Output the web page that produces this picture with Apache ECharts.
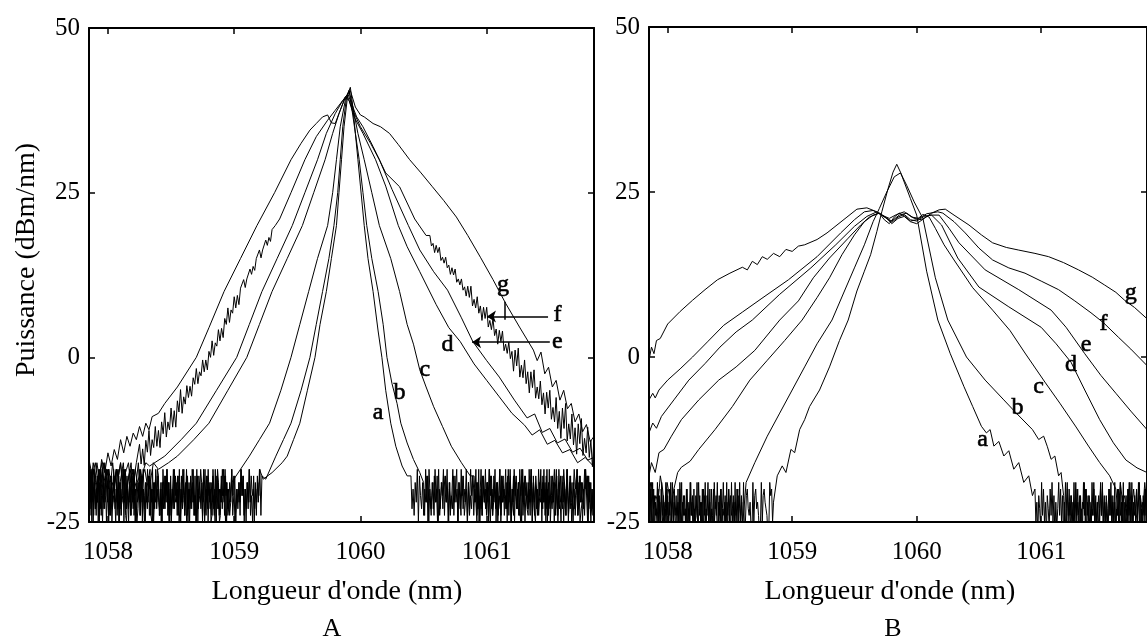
<!DOCTYPE html>
<html>
<head>
<meta charset="utf-8">
<script src="https://cdn.jsdelivr.net/npm/echarts@6.0.0/dist/echarts.min.js"></script>
<style>
html, body { margin: 0; padding: 0; background: #fff; }
#chart { width: 1147px; height: 640px; }
</style>
</head>
<body>
<div id="chart"></div>
<script>
var ticksX = [1058, 1059, 1060, 1061];
var ticksY = [-25, 0, 25, 50];

/* ---- bruit du plancher : un chiffre = dB sous le niveau de référence ---- */
// panneau A, référence -16 dBm/nm
var fA_aL = '3725614829374165293847261593728461937256184729365182947361528493716258493726159384726' +
            '6481927356184927365819247365182947365819274635182947361852947361528493716254938261';
var fA_bL = '5281937462815937246183952746193825617493826154973826159472836195274683915726384951726' +
            '2739461852937461859273648195273648159273846152937486152974638152947361859274635182';
var fA_cL = '4619283756192847365129483756218493765128947365218497356128497356218947365128493762' +
            '5183927461538297461583927465138297465139287461539827465139827461538';
var fA_dL = '2413520314253142053124305213420';
var fA_eL = '1302413021534120314205132410';
var fA_fL = '0213021402130312042103120';
var fA_aR = '2748361925738462915837264918537246193857264193582746193857246183957246183952746193857264' +
            '5172839461527384916253748192637485192637481952637481592637418529637418526374159263748';
var fA_bR = '3816294753816294735182649375182649371528649371528469375182647391528647395182647391528' +
            '6293748152639478152637948152736491857263941857263948157263948517263948152739481';
var fA_cR = '2637194825736194825637194285736194825736918425736194825736' +
            '4718293657418293657148293765142839765142938765';
// panneau B, référence -18 dBm/nm
var fB_aL = '3715829461738259471638295174638291574638295716482935716482937561829' +
            '5927461839275648192736548192735648197325648917325469817324569813274';
var fB_bL = '4827193658274916385729461837295648271936582749163857' +
            '6195374826193574826915378462951738462591738465291738';
var fB_cL = '215340261352';
var fB_aR = '2749358162749358261739485162739485172639485172693845172639485' +
            '6173948526173849526183749562817394856271839465271839456271';
var fB_bR = '3718264935718264937581629473581629475381629473' +
            '5926374819527364819537264918537264195837264';
var fB_cR = '261438152743615';

// flancs bruités de la courbe f (panneau A), dBm/nm
var nA_fLs = [-13.2,-16.2,-13.9,-16.4,-12.6,-14.4,-11.1,-14.9,-12.5,-13.7,-10.5,-13.5,-11.1,-13.7,-9.8,-11.6,-8.4,-12.1,-9.8,-11,-7.7,-10.6,-8.1,-10.6,-6.6,-8.3,-4.9,-8.5,-6,-7.1,-4.3,-6.1,-4.4,-5.9,-3.1,-4.1,-1.7,-4,-2.2,-2.8,-0.4,-2.2,-0.4,-1.9,0.9,0,2.5,0.3,2.2,1.7,4.2,2.5,4.4,3,5.9,5,7.5,5.3,7.2,6.7,9.2,7.5,9.4,8,10.5,10.2,11.8,10.6,11.9,11.8,13.4,12.6,13.8,13.2,15,14.7,16.3,15.1,16.3,16.2,17.8,17,18.2,17.6,19.4,19.1,20];
var nA_fRs = [18.5,16.9,17.3,15.9,17,15.9,16.7,14.7,15.2,14.3,15.2,13.6,14,12.6,13.6,12.5,13.4,11.4,11.9,11,11.9,10.2,10.7,9.3,10.8,9.1,10.8,7.8,8.8,7.5,9.2,6.7,7.8,5.6,7.6,5.9,7.6,4.6,5.6,4.2,5.9,3.3,4.3,2,4.1,2.4,4,1,2,0.6,2.3,-0.2,0.9,-2.1,1.1,-1.3,1.4,-3,-1.2,-3.1,-0.4,-4,-2.2,-5.4,-2.2,-4.6,-1.9,-6.2,-4.5,-6.3,-3.6,-7.2,-5.4,-8.6,-5.3,-7.7,-5,-9.4,-7.6,-9.8,-6.1,-10.8,-8.2,-12.3,-7.7,-10.8,-7,-12.7,-10.1,-12.4,-8.6,-13.3,-10.7,-14.7,-10.1,-13.1,-9.3,-14.9,-12.3,-14.5,-10.6,-15.2,-12.6,-16.6,-12];

/* ---- courbes du panneau A [longueur d'onde nm, puissance dBm/nm] ---- */
var A_a_mid = [[1059.23,-18.5],[1059.3,-17.5],[1059.38,-16],[1059.42,-15],[1059.47,-12.5],[1059.52,-10],[1059.58,-5],[1059.64,0],[1059.68,5],[1059.73,10],[1059.77,15],[1059.81,20],[1059.83,25],[1059.85,30],[1059.87,35],[1059.9,40],[1059.92,41],[1059.94,38],[1059.96,34],[1059.98,30],[1060.0,26],[1060.03,20],[1060.06,15],[1060.1,10],[1060.14,4],[1060.17,0],[1060.2,-5],[1060.24,-10],[1060.28,-13.5],[1060.33,-16.5],[1060.37,-18]];
var A_b_mid = [[1059.25,-18.5],[1059.33,-15],[1059.39,-12.5],[1059.45,-10],[1059.53,-5],[1059.6,0],[1059.65,5],[1059.7,10],[1059.75,15],[1059.79,20],[1059.82,25],[1059.84,30],[1059.86,35],[1059.89,39.5],[1059.91,40.5],[1059.93,38],[1059.96,34],[1059.99,30],[1060.02,25],[1060.05,20],[1060.09,15],[1060.14,10],[1060.18,5],[1060.21,0],[1060.25,-4],[1060.29,-7],[1060.32,-10],[1060.37,-13],[1060.42,-15.5],[1060.47,-17.5]];
var A_c_mid = [[1058.98,-19],[1059.05,-17],[1059.12,-15],[1059.2,-12.5],[1059.28,-10],[1059.37,-5],[1059.45,0],[1059.52,5],[1059.59,10],[1059.66,15],[1059.74,20],[1059.78,25],[1059.81,30],[1059.84,35],[1059.88,39],[1059.91,40.5],[1059.94,38],[1059.98,34],[1060.03,30],[1060.09,25],[1060.15,20],[1060.24,15],[1060.31,10],[1060.37,5],[1060.42,2],[1060.47,-1.9],[1060.52,-4.5],[1060.58,-7.5],[1060.65,-10.5],[1060.72,-13.5],[1060.8,-16],[1060.87,-18]];
var A_d_mid = [[1058.4,-17],[1058.48,-16],[1058.55,-15],[1058.68,-12.5],[1058.8,-10],[1058.95,-5],[1059.1,0],[1059.2,5],[1059.3,10],[1059.42,15],[1059.54,20],[1059.63,25],[1059.72,30],[1059.78,34],[1059.83,37],[1059.88,39.5],[1059.91,39],[1059.95,36.5],[1060.02,34],[1060.12,30],[1060.2,26],[1060.3,20],[1060.37,16.8],[1060.47,13],[1060.6,8],[1060.7,4.5],[1060.79,2.4],[1060.9,-1],[1061.0,-3.5],[1061.1,-6],[1061.2,-8.5],[1061.3,-10.3],[1061.36,-11.8],[1061.42,-11],[1061.48,-13.2],[1061.54,-12.6],[1061.6,-14.5],[1061.66,-14],[1061.72,-16],[1061.78,-15.2],[1061.85,-16.6]];
var A_e_mid = [[1058.33,-16.5],[1058.45,-15],[1058.58,-12.5],[1058.7,-10],[1058.86,-5],[1059.02,0],[1059.12,5],[1059.22,10],[1059.34,15],[1059.46,20],[1059.56,25],[1059.66,30],[1059.73,34],[1059.8,37],[1059.86,39],[1059.9,39.5],[1059.94,37.5],[1060.0,35],[1060.08,32.5],[1060.15,30],[1060.25,25.5],[1060.38,20],[1060.47,16.3],[1060.58,13],[1060.69,10.2],[1060.8,6],[1060.89,2.4],[1061.0,-0.5],[1061.1,-3],[1061.22,-6.5],[1061.32,-9.2],[1061.38,-8.6],[1061.44,-11.4],[1061.5,-10.8],[1061.56,-13],[1061.62,-12.4],[1061.68,-14.4],[1061.74,-13.8],[1061.8,-15.6],[1061.85,-15.2]];
var A_f_top = [[1059.36,21],[1059.45,25],[1059.56,30],[1059.65,33.5],[1059.74,36],[1059.8,37.5],[1059.86,39],[1059.9,40],[1059.93,38.5],[1059.97,36.5],[1060.02,35],[1060.1,32],[1060.2,28],[1060.31,25.9],[1060.43,21],[1060.52,18.5]];
var A_g_left = [[1057.85,-15.5],[1057.875,-18],[1057.9,-16],[1057.925,-19.5],[1057.95,-15.5],[1057.975,-17.5],[1058.0,-14.5],[1058.025,-16.5],[1058.05,-14],[1058.075,-15.5],[1058.1,-12.5],[1058.125,-14.5],[1058.15,-12],[1058.175,-13.5],[1058.2,-11.5],[1058.225,-12.5],[1058.25,-10.5],[1058.275,-12],[1058.3,-10],[1058.325,-11],[1058.35,-9],[1058.4,-8.5],[1058.45,-7]];
var A_g_core = [[1058.55,-4.5],[1058.7,0],[1058.8,4.5],[1058.92,10],[1059.05,15],[1059.18,20],[1059.32,25],[1059.45,30],[1059.53,32.5],[1059.6,34.5],[1059.65,35.5],[1059.7,36.5],[1059.74,36.8],[1059.77,35.6],[1059.8,35.5],[1059.84,37.5],[1059.88,39.5],[1059.92,40.5],[1059.96,38],[1060.0,36.8],[1060.03,36.5],[1060.1,35.5],[1060.16,35],[1060.23,34],[1060.3,32.3],[1060.39,30],[1060.48,28],[1060.57,25.9],[1060.66,23.8],[1060.76,21.3],[1060.85,18.5],[1060.95,15.2],[1061.05,11.8],[1061.15,8.2],[1061.26,4.6],[1061.37,1.1]];
var A_g_tail = [[1061.4,-0.5],[1061.43,0.8],[1061.46,-2.5],[1061.49,-1.5],[1061.52,-4.5],[1061.55,-3.5],[1061.58,-6.5],[1061.61,-5],[1061.64,-7.8],[1061.67,-7],[1061.7,-9.8],[1061.73,-8.6],[1061.76,-11.3],[1061.79,-10.2],[1061.82,-12.8],[1061.85,-12]];

/* ---- courbes du panneau B ---- */
var B_a_mid = [[1058.88,-18],[1058.92,-16.5],[1058.95,-17.5],[1058.99,-14],[1059.02,-14.5],[1059.06,-11],[1059.1,-9.5],[1059.14,-7.5],[1059.22,-5],[1059.3,-1.5],[1059.38,2.5],[1059.45,5.6],[1059.52,10],[1059.58,13],[1059.63,15.5],[1059.68,19],[1059.72,22],[1059.77,25.5],[1059.81,28],[1059.84,29.2],[1059.87,28],[1059.9,26.5],[1059.95,24],[1060.0,21.5],[1060.08,13],[1060.17,5.6],[1060.27,0.5],[1060.38,-4.5],[1060.45,-7.5],[1060.52,-10.5],[1060.56,-11.5],[1060.59,-11],[1060.62,-13.5],[1060.66,-12.8],[1060.7,-15],[1060.74,-14.2],[1060.78,-17],[1060.82,-16],[1060.86,-19],[1060.9,-18],[1060.93,-21]];
var B_b_mid = [[1058.63,-19],[1058.7,-16],[1058.8,-12],[1058.9,-8.5],[1059.0,-5],[1059.1,-1.5],[1059.2,2],[1059.32,5.6],[1059.42,10],[1059.5,13.5],[1059.58,17],[1059.65,20.5],[1059.7,22.5],[1059.76,25],[1059.82,27.3],[1059.87,27.9],[1059.92,26],[1059.98,23.5],[1060.05,21],[1060.15,12],[1060.25,5.6],[1060.4,0],[1060.55,-3.5],[1060.7,-6.5],[1060.8,-8.5],[1060.93,-11],[1060.98,-12.5],[1061.02,-12],[1061.05,-13.6],[1061.08,-15.5],[1061.11,-15],[1061.14,-18],[1061.16,-17.5]];
var B_c_mid = [[1058.08,-17.5],[1058.11,-16.7],[1058.18,-15.8],[1058.25,-14],[1058.38,-11],[1058.52,-7.5],[1058.66,-3.5],[1058.8,-0.5],[1058.94,2.5],[1059.08,5.6],[1059.2,9],[1059.3,12],[1059.4,15.5],[1059.5,18.5],[1059.58,20.5],[1059.65,21.5],[1059.7,21.8],[1059.74,20.8],[1059.78,20.2],[1059.82,21.2],[1059.86,21.8],[1059.9,21.4],[1059.95,20.6],[1060.0,20.8],[1060.05,21.6],[1060.1,21.2],[1060.15,19.5],[1060.22,17],[1060.3,14.7],[1060.45,10.5],[1060.61,7.1],[1060.75,4],[1060.87,0.6],[1061.03,-3.8],[1061.15,-7],[1061.28,-10.6],[1061.38,-13.5],[1061.47,-16],[1061.55,-18]];
var B_d = [[1057.85,-18],[1057.87,-16],[1057.9,-17.5],[1057.93,-14.5],[1057.97,-14],[1058.03,-12],[1058.11,-9.5],[1058.25,-6.5],[1058.41,-3.5],[1058.55,-1.5],[1058.7,1],[1058.9,5.6],[1059.05,8.5],[1059.17,12],[1059.3,15],[1059.45,18],[1059.55,20],[1059.62,21.2],[1059.7,21.8],[1059.76,21],[1059.8,20.4],[1059.85,21.2],[1059.9,21.6],[1059.95,20.8],[1060.0,20.6],[1060.06,21.3],[1060.12,21.5],[1060.2,20],[1060.33,15],[1060.5,10.6],[1060.74,7.6],[1061.0,4.5],[1061.12,2],[1061.24,-0.8],[1061.35,-5],[1061.47,-9.5],[1061.58,-13],[1061.68,-15.6],[1061.77,-16.8],[1061.85,-17.5]];
var B_e = [[1057.85,-11.5],[1057.88,-10],[1057.91,-10.8],[1057.95,-9],[1058.05,-6.5],[1058.17,-3.5],[1058.3,-1],[1058.42,1.5],[1058.55,3.8],[1058.68,5.6],[1058.9,9.5],[1059.15,13.5],[1059.35,17],[1059.5,19.8],[1059.6,21.3],[1059.68,22],[1059.74,21.2],[1059.8,20.6],[1059.86,21.5],[1059.92,21.8],[1059.98,21],[1060.04,20.8],[1060.1,21.5],[1060.18,21.5],[1060.26,19.5],[1060.34,17.3],[1060.55,13.2],[1060.82,10.2],[1061.08,7.1],[1061.2,4.5],[1061.35,0.5],[1061.48,-2.8],[1061.6,-5.5],[1061.72,-8.2],[1061.85,-11]];
var B_f = [[1057.85,-6.5],[1057.88,-5.5],[1057.9,-6.2],[1057.93,-5],[1058.0,-3.5],[1058.1,-1.8],[1058.2,0],[1058.32,2.3],[1058.45,4.8],[1058.6,6.8],[1058.75,8.8],[1058.97,11.7],[1059.2,15.2],[1059.39,18.8],[1059.5,20.8],[1059.58,22],[1059.65,22.2],[1059.72,21.5],[1059.78,21],[1059.84,21.6],[1059.9,22],[1059.96,21.2],[1060.02,21],[1060.08,21.7],[1060.17,22],[1060.21,21.8],[1060.3,20.5],[1060.39,18.8],[1060.5,16.5],[1060.61,14.7],[1060.74,13.5],[1060.87,12.7],[1061.0,11.5],[1061.14,10.2],[1061.27,8.5],[1061.4,6.7],[1061.5,5.2],[1061.62,3],[1061.72,1.2],[1061.85,-1.3]];
var B_g = [[1057.85,-0.5],[1057.87,1.5],[1057.89,0.5],[1057.91,2.5],[1057.94,2.8],[1058.0,5],[1058.1,6.9],[1058.2,8.6],[1058.3,10.2],[1058.4,11.7],[1058.5,12.7],[1058.6,13.6],[1058.64,13.2],[1058.68,14.5],[1058.72,14],[1058.76,15.2],[1058.8,14.8],[1058.85,15.7],[1058.9,15.2],[1058.95,16.3],[1059.0,16],[1059.05,16.8],[1059.1,17],[1059.2,17.8],[1059.28,18.8],[1059.36,20],[1059.44,21.2],[1059.52,22.4],[1059.6,22.6],[1059.68,22],[1059.75,21.2],[1059.8,20.2],[1059.85,21],[1059.9,21.3],[1059.95,20.5],[1060.0,20.2],[1060.06,21],[1060.12,21.8],[1060.18,22.3],[1060.23,22.4],[1060.3,21.5],[1060.42,20],[1060.52,18.5],[1060.61,17.3],[1060.72,16.6],[1060.82,16.2],[1060.95,15.7],[1061.06,15.2],[1061.18,14.3],[1061.3,13.2],[1061.41,12.1],[1061.51,10.9],[1061.6,9.8],[1061.67,8.6],[1061.75,7.5],[1061.85,5.8]];

/* ---- repères des courbes ---- */
var labelsA = [['a',1060.14,-8.4],['b',1060.31,-5.3],['c',1060.51,-1.9],['d',1060.69,1.9],['e',1061.56,2.3],['f',1061.56,6.4],['g',1061.13,11.0]];
var labelsB = [['a',1060.53,-12.6],['b',1060.81,-7.7],['c',1060.98,-4.5],['d',1061.24,-1.2],['e',1061.36,1.8],['f',1061.5,5.0],['g',1061.72,9.7]];
var arrowsA = [[1061.50,2.3,1060.884,2.3],[1061.486,6.2,1061.002,6.2]];
var tickG = [1061.145,8.45,1061.145,5.7];

// échantillons répartis régulièrement entre x0 et x1
function seg(x0, x1, ys) {
    var out = [];
    for (var i = 0; i < ys.length; i++) {
        out.push([x0 + (x1 - x0) * i / (ys.length - 1), ys[i]]);
    }
    return out;
}
// plancher de bruit lu chiffre par chiffre
function floorSeg(x0, x1, ref, str) {
    return seg(x0, x1, str.split('').map(function (c) { return ref - Number(c); }));
}

var curvesA = [
    floorSeg(1057.85, 1059.2, -16, fA_aL).concat(A_a_mid, floorSeg(1060.4, 1061.85, -16, fA_aR)),
    floorSeg(1057.85, 1059.22, -16, fA_bL).concat(A_b_mid, floorSeg(1060.5, 1061.85, -16, fA_bR)),
    floorSeg(1057.85, 1058.95, -16, fA_cL).concat(A_c_mid, floorSeg(1060.9, 1061.85, -16, fA_cR)),
    floorSeg(1057.85, 1058.36, -16, fA_dL).concat(A_d_mid),
    floorSeg(1057.85, 1058.3, -16, fA_eL).concat(A_e_mid),
    floorSeg(1057.85, 1058.225, -16, fA_fL).concat(seg(1058.25, 1059.325, nA_fLs), A_f_top, seg(1060.55, 1061.85, nA_fRs)),
    A_g_left.concat(A_g_core, A_g_tail)
];
var curvesB = [
    floorSeg(1057.85, 1058.85, -18, fB_aL).concat(B_a_mid, floorSeg(1060.95, 1061.85, -18, fB_aR)),
    floorSeg(1057.85, 1058.6, -18, fB_bL).concat(B_b_mid, floorSeg(1061.18, 1061.85, -18, fB_bR)),
    floorSeg(1057.85, 1058.05, -18, fB_cL).concat(B_c_mid, floorSeg(1061.6, 1061.85, -18, fB_cR)),
    B_d, B_e, B_f, B_g
];

var FONT = 'Liberation Serif';
var black = '#000';

function xAxisFor(grid, top, withName, pad) {
    return {
        type: 'value', gridIndex: grid, position: top ? 'top' : 'bottom',
        min: 1057.85, max: 1061.85,
        axisLine: { show: true, onZero: false, lineStyle: { color: black, width: 2 } },
        axisTick: { show: true, inside: true, length: 6, customValues: ticksX, lineStyle: { color: black, width: 1.5 } },
        axisLabel: {
            show: !top, customValues: ticksX, color: black, fontFamily: FONT, fontSize: 25, margin: 18,
            formatter: function (v) { return String(v); }
        },
        splitLine: { show: false },
        name: withName ? "Longueur d'onde (nm)" : '',
        nameLocation: 'middle', nameGap: 56,
        nameTextStyle: { color: black, fontFamily: FONT, fontSize: 28, padding: [0, pad || 0, 0, 0] }
    };
}
function yAxisFor(grid, right, name) {
    return {
        type: 'value', gridIndex: grid, position: right ? 'right' : 'left',
        min: -25, max: 50, interval: 25,
        axisLine: { show: true, onZero: false, lineStyle: { color: black, width: 2 } },
        axisTick: { show: true, inside: true, length: 6, lineStyle: { color: black, width: 1.5 } },
        axisLabel: { show: !right, color: black, fontFamily: FONT, fontSize: 25, margin: 9 },
        splitLine: { show: false },
        name: name || '', nameLocation: 'middle', nameGap: 48,
        nameTextStyle: { color: black, fontFamily: FONT, fontSize: 28, padding: [0, 0, 0, 30] }
    };
}

var series = [];
function addCurves(list, axisIdx) {
    list.forEach(function (d) {
        series.push({
            type: 'line', xAxisIndex: axisIdx, yAxisIndex: axisIdx, data: d,
            showSymbol: false, symbol: 'none', clip: true,
            lineStyle: { color: black, width: 1 }, silent: true
        });
    });
}
addCurves(curvesA, 0);
addCurves(curvesB, 2);

function labelSeries(list, axisIdx, marks) {
    var s = {
        type: 'scatter', xAxisIndex: axisIdx, yAxisIndex: axisIdx, symbolSize: 0, silent: true,
        itemStyle: { color: black, opacity: 1 },
        data: list.map(function (l) { return [l[1], l[2], l[0]]; }),
        label: {
            show: true, position: 'inside', color: black, opacity: 1,
            textBorderWidth: 0.6, textBorderColor: black,
            fontFamily: FONT, fontSize: 24,
            formatter: function (p) { return p.value[2]; }
        }
    };
    if (marks) s.markLine = marks;
    return s;
}
var marksA = {
    silent: true, symbol: ['none', 'arrow'], symbolSize: 9, animation: false,
    label: { show: false },
    lineStyle: { type: 'solid', color: black, width: 1.5, opacity: 1 },
    data: arrowsA.map(function (a) {
        return [{ coord: [a[0], a[1]] }, { coord: [a[2], a[3]] }];
    }).concat([[{ coord: [tickG[0], tickG[1]] }, { coord: [tickG[2], tickG[3]], symbol: 'none' }]])
};
series.push(labelSeries(labelsA, 0, marksA));
series.push(labelSeries(labelsB, 2));

var myChart = echarts.init(document.getElementById('chart'));
myChart.setOption({
    backgroundColor: '#fff',
    animation: false,
    grid: [
        { left: 89, top: 28, width: 505, height: 494 },
        { left: 649, top: 27, width: 502, height: 495 }
    ],
    xAxis: [xAxisFor(0, false, true, 9), xAxisFor(0, true), xAxisFor(1, false, true, 16), xAxisFor(1, true)],
    yAxis: [yAxisFor(0, false, 'Puissance (dBm/nm)'), yAxisFor(0, true), yAxisFor(1, false), yAxisFor(1, true)],
    graphic: [
        { type: 'text', x: 332, y: 629, style: { text: 'A', font: '26px "Liberation Serif"', fill: black, align: 'center', verticalAlign: 'middle', textAlign: 'center', textVerticalAlign: 'middle' } },
        { type: 'text', x: 893, y: 629, style: { text: 'B', font: '26px "Liberation Serif"', fill: black, align: 'center', verticalAlign: 'middle', textAlign: 'center', textVerticalAlign: 'middle' } }
    ],
    series: series
});
</script>
</body>
</html>
